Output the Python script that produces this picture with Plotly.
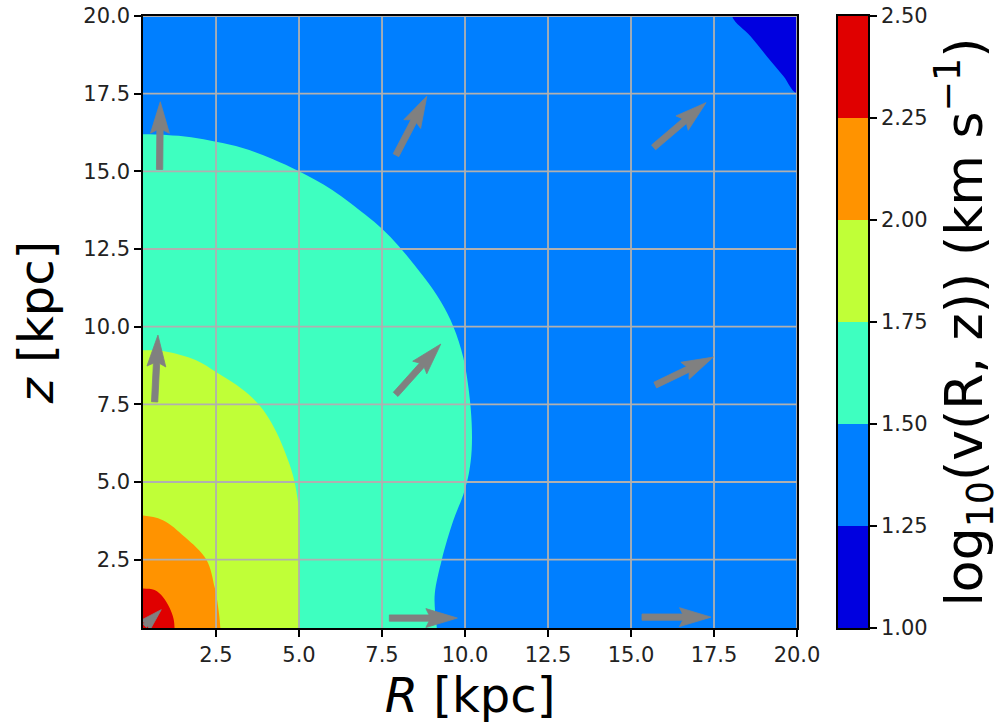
import numpy as np
import plotly.graph_objects as go

# ---- axis extents and ticks -------------------------------------------------
R_MIN, R_MAX = 0.3, 20.0
Z_MIN, Z_MAX = 0.3, 20.0
TICKS = [2.5, 5.0, 7.5, 10.0, 12.5, 15.0, 17.5, 20.0]
TICK_TEXT = ["2.5", "5.0", "7.5", "10.0", "12.5", "15.0", "17.5", "20.0"]

# ---- contour levels of log10 v and the fill colour of each band --------------
LEVELS = [1.00, 1.25, 1.50, 1.75, 2.00, 2.25, 2.50]
LEVEL_TEXT = ["1.00", "1.25", "1.50", "1.75", "2.00", "2.25", "2.50"]
BAND_COLORS = ["rgb(0,0,224)", "rgb(0,127,255)", "rgb(62,255,192)",
               "rgb(192,255,55)", "rgb(255,147,0)", "rgb(224,0,0)"]

# ---- contour lines (R, z) in kpc --------------------------------------------
# log10 v = 1.25 : runs from the top edge to the right edge
C125_R = [18.04, 18.6, 19.1, 19.6, 20.0]
C125_Z = [20.0, 19.35, 18.69, 18.05, 17.5]
# log10 v = 1.50 : left edge -> bottom edge
C150_R = [0.3, 1.0, 1.75, 2.5, 3.3, 4.2, 5.0, 6.0, 7.0, 7.5, 8.0, 8.5, 9.0,
          9.3, 9.65, 9.95, 10.12, 10.2, 10.2, 10.12, 9.95, 9.65, 9.3, 9.09,
          9.1, 9.15]
C150_Z = [16.19, 16.17, 16.1, 15.95, 15.75, 15.4, 15.0, 14.4, 13.6, 13.15,
          12.6, 11.95, 11.25, 10.75, 10.0, 9.0, 7.9, 6.9, 6.02, 5.3, 4.6,
          3.77, 2.5, 1.41, 0.8, 0.3]
# log10 v = 1.75
C175_R = [0.3, 0.9, 1.9, 2.5, 3.12, 3.6, 4.0, 4.32, 4.6, 4.82, 4.95, 5.02,
          5.02, 5.0, 4.98]
C175_Z = [9.24, 9.22, 8.92, 8.54, 8.12, 7.7, 7.2, 6.6, 5.9, 5.2, 4.5,
          3.8, 2.5, 1.2, 0.3]
# log10 v = 2.00
C200_R = [0.3, 0.9, 1.56, 2.21, 2.46, 2.56, 2.63]
C200_Z = [3.92, 3.77, 3.23, 2.5, 1.6, 1.0, 0.3]
# log10 v = 2.25
C225_R = [0.3, 0.65, 0.9, 1.1, 1.22, 1.25]
C225_Z = [1.57, 1.52, 1.3, 0.95, 0.6, 0.3]

# ---- velocity arrows: tail position and vector (kpc) -------------------------
ARROW_R = [0.35, 7.72, 15.33, 0.65, 7.91, 15.73, 0.80, 7.92, 15.68]
ARROW_Z = [0.37, 0.62, 0.65, 7.58, 7.82, 8.12, 15.06, 15.52, 15.77]
ARROW_DR = [0.50, 2.05, 2.08, 0.10, 1.36, 1.75, 0.02, 0.93, 1.58]
ARROW_DZ = [0.52, 0.00, 0.00, 2.15, 1.62, 0.90, 2.18, 1.90, 1.44]

# ---- page geometry ------------------------------------------------------------
W, H = 1002, 728
ML, MR, MT, MB = 143, 134, 16, 100
PLOT_W = W - ML - MR
PLOT_H = H - MT - MB
MAIN_FRAC = (797 - 143) / PLOT_W
CBAR_DOM = [(838 - 143) / PLOT_W, 1.0]
SX = MAIN_FRAC * PLOT_W / (R_MAX - R_MIN)   # px per kpc along R
SY = PLOT_H / (Z_MAX - Z_MIN)               # px per kpc along z
PAD = 1.0                                   # closing path runs outside the clipped box

fig = go.Figure()


def fill_region(xs, ys, color, smooth=True):
    fig.add_trace(go.Scatter(x=xs, y=ys, mode="lines", fill="toself",
                             fillcolor=color,
                             line=dict(width=0, color=color,
                                       shape="spline" if smooth else "linear",
                                       smoothing=1.0),
                             hoverinfo="skip", xaxis="x", yaxis="y"))


# whole box is above the lowest level
fill_region([R_MIN - PAD, R_MAX + PAD, R_MAX + PAD, R_MIN - PAD],
            [Z_MIN - PAD, Z_MIN - PAD, Z_MAX + PAD, Z_MAX + PAD], BAND_COLORS[0], smooth=False)
# region above 1.25 (everything except the far corner)
fill_region([C125_R[0]] + C125_R + [R_MAX + PAD, R_MAX + PAD, R_MIN - PAD, R_MIN - PAD],
            [Z_MAX + PAD] + C125_Z + [C125_Z[-1], Z_MIN - PAD, Z_MIN - PAD, Z_MAX + PAD],
            BAND_COLORS[1])
# nested regions closed around the inner corner
for cr, cz, col in [(C150_R, C150_Z, BAND_COLORS[2]), (C175_R, C175_Z, BAND_COLORS[3]),
                    (C200_R, C200_Z, BAND_COLORS[4]), (C225_R, C225_Z, BAND_COLORS[5])]:
    fill_region([R_MIN - PAD] + cr + [cr[-1], R_MIN - PAD],
                [cz[0]] + cz + [Z_MIN - PAD, Z_MIN - PAD], col)

# grid lines over the filled contours
gx, gy = [], []
for t in TICKS:
    gx += [t, t, None]
    gy += [Z_MIN, Z_MAX, None]
    gx += [R_MIN, R_MAX, None]
    gy += [t, t, None]
fig.add_trace(go.Scatter(x=gx, y=gy, mode="lines", line=dict(color="#b0b0b0", width=1.8),
                         hoverinfo="skip", xaxis="x", yaxis="y"))

# quiver-style arrows, built in pixel space then mapped back to kpc
SHAFT = 6.3
HEAD_LEN, HEAD_AXIS, HEAD_W = 5.0 * SHAFT, 4.5 * SHAFT, 3.0 * SHAFT
ax_all, ay_all = [], []
for r0, z0, dr, dz in zip(ARROW_R, ARROW_Z, ARROW_DR, ARROW_DZ):
    px, py = dr * SX, dz * SY
    L = float(np.hypot(px, py))
    ux, uy = px / L, py / L
    vx, vy = -uy, ux
    shrink = 1.0
    Ld = L
    if L < HEAD_LEN:
        shrink = L / HEAD_LEN
        Ld = HEAD_LEN
    w, hl, ha, hw = SHAFT / 2, HEAD_LEN, HEAD_AXIS, HEAD_W / 2
    pts = [(0, -w), (Ld - ha, -w), (Ld - hl, -hw), (Ld, 0), (Ld - hl, hw), (Ld - ha, w), (0, w), (0, -w)]
    for a, b in pts:
        a *= shrink
        b *= shrink
        ax_all.append(r0 + (a * ux + b * vx) / SX)
        ay_all.append(z0 + (a * uy + b * vy) / SY)
    ax_all.append(None)
    ay_all.append(None)
fig.add_trace(go.Scatter(x=ax_all, y=ay_all, mode="lines", fill="toself",
                         fillcolor="#808080", line=dict(width=0.8, color="#808080"),
                         hoverinfo="skip", xaxis="x", yaxis="y"))

# colour bar drawn as stacked bands on its own axis
fig.add_trace(go.Bar(x=[0] * (len(LEVELS) - 1), y=list(np.diff(LEVELS)), base=LEVELS[:-1],
                     width=1.0, marker=dict(color=BAND_COLORS, line=dict(width=0)),
                     hoverinfo="skip", xaxis="x2", yaxis="y2"))

axis_common = dict(showline=True, linecolor="black", linewidth=1.5, mirror=True,
                   ticks="outside", ticklen=7, tickwidth=1.5, tickcolor="black",
                   showgrid=False, zeroline=False, automargin=False,
                   tickfont=dict(family="DejaVu Sans", size=21, color="#222"))

fig.update_layout(
    width=W, height=H,
    margin=dict(l=ML, r=MR, t=MT, b=MB),
    paper_bgcolor="white", plot_bgcolor="white",
    showlegend=False, barmode="overlay",
    font=dict(family="DejaVu Sans", color="black"),
    xaxis=dict(domain=[0, MAIN_FRAC], range=[R_MIN, R_MAX], tickvals=TICKS, ticktext=TICK_TEXT,
               title=dict(text="<i>R</i> [kpc]", font=dict(size=48), standoff=4),
               **axis_common),
    yaxis=dict(domain=[0, 1], range=[Z_MIN, Z_MAX], tickvals=TICKS, ticktext=TICK_TEXT,
               title=dict(text="<i>z</i> [kpc]", font=dict(size=48), standoff=14),
               **axis_common),
    xaxis2=dict(domain=CBAR_DOM, range=[-0.5, 0.5], anchor="y2", showticklabels=False,
                showline=True, linecolor="black", linewidth=1.5, mirror=True, ticks="",
                showgrid=False, zeroline=False, automargin=False),
    yaxis2=dict(domain=[0, 1], range=[LEVELS[0], LEVELS[-1]], anchor="x2", side="right",
                tickvals=LEVELS, ticktext=LEVEL_TEXT,
                title=dict(text="log<sub>10</sub>(v(R, z)) (km s<sup>\u22121</sup>)",
                           font=dict(size=52), standoff=19),
                **axis_common),
)

fig.write_html("out.html")
